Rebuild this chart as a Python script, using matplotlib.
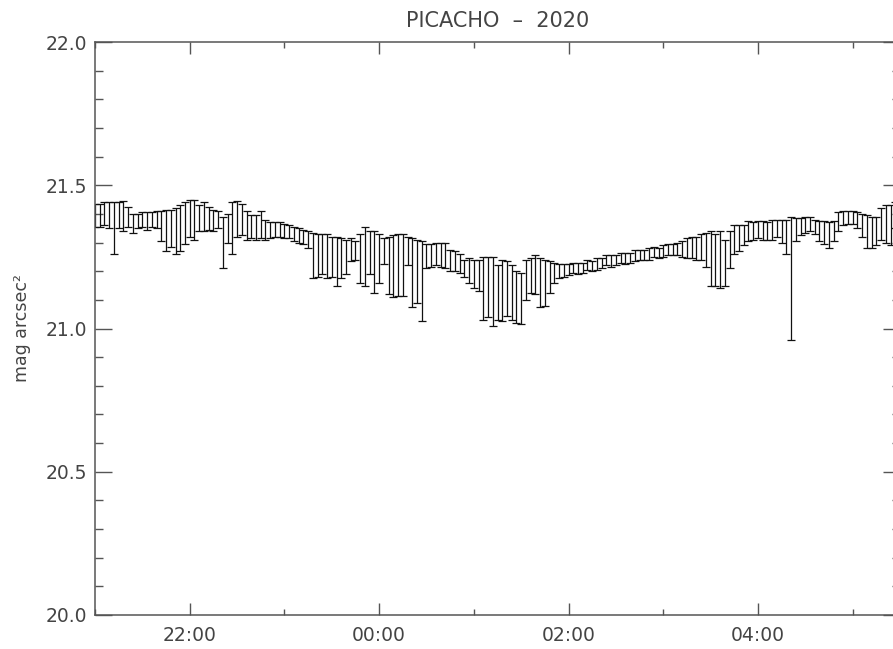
import numpy as np
import pandas as pd
import matplotlib
matplotlib.use("Agg")
import matplotlib.pyplot as plt
import matplotlib.dates as mdates
from matplotlib.ticker import MultipleLocator

# Brilho do ceu medido a cada 3 minutos (mag/arcsec^2) com barras de erro
titulo = "PICACHO  \u2013  2020"
rotulo_y = "mag arcsec\u00b2"

# valores centrais, agrupados por hora (21h ... 05h)
mag_21 = [21.395, 21.39, 21.40, 21.39, 21.38, 21.39, 21.39, 21.385, 21.37, 21.375,
          21.38, 21.375, 21.38, 21.38, 21.375, 21.38, 21.385, 21.38, 21.39, 21.395]
mag_22 = [21.40, 21.41, 21.40, 21.39, 21.385, 21.38, 21.37, 21.36, 21.37, 21.38,
          21.39, 21.385, 21.37, 21.365, 21.36, 21.365, 21.36, 21.355, 21.355, 21.35]
mag_23 = [21.345, 21.34, 21.335, 21.33, 21.325, 21.32, 21.315, 21.31, 21.31, 21.305,
          21.30, 21.30, 21.295, 21.29, 21.285, 21.28, 21.28, 21.29, 21.29, 21.285]
mag_00 = [21.28, 21.275, 21.28, 21.28, 21.285, 21.285, 21.28, 21.275, 21.27, 21.265,
          21.27, 21.265, 21.26, 21.255, 21.25, 21.245, 21.24, 21.235, 21.22, 21.21]
mag_01 = [21.20, 21.19, 21.17, 21.16, 21.15, 21.15, 21.145, 21.145, 21.15, 21.15,
          21.155, 21.16, 21.165, 21.17, 21.175, 21.18, 21.185, 21.19, 21.195, 21.20]
mag_02 = [21.205, 21.21, 21.21, 21.215, 21.22, 21.22, 21.225, 21.23, 21.235, 21.235,
          21.24, 21.245, 21.245, 21.25, 21.255, 21.255, 21.26, 21.26, 21.265, 21.265]
mag_03 = [21.27, 21.275, 21.275, 21.28, 21.28, 21.285, 21.285, 21.29, 21.29, 21.285,
          21.27, 21.23, 21.22, 21.23, 21.26, 21.30, 21.32, 21.33, 21.335, 21.34]
mag_04 = [21.345, 21.34, 21.34, 21.345, 21.35, 21.33, 21.32, 21.34, 21.345, 21.355,
          21.36, 21.365, 21.36, 21.35, 21.345, 21.34, 21.345, 21.37, 21.38, 21.385]
mag_05 = [21.385, 21.38, 21.37, 21.36, 21.355, 21.35, 21.37, 21.38, 21.39, 21.40]

# erro para cima
sup_21 = [0.04, 0.045, 0.04, 0.05, 0.06, 0.05, 0.055, 0.04, 0.03, 0.025,
          0.025, 0.03, 0.025, 0.03, 0.035, 0.035, 0.03, 0.04, 0.04, 0.045]
sup_22 = [0.05, 0.04, 0.03, 0.05, 0.04, 0.035, 0.04, 0.03, 0.03, 0.06,
          0.055, 0.05, 0.04, 0.03, 0.035, 0.045, 0.02, 0.015, 0.015, 0.02]
sup_23 = [0.02, 0.02, 0.02, 0.02, 0.02, 0.02, 0.02, 0.02, 0.02, 0.025,
          0.02, 0.02, 0.02, 0.02, 0.03, 0.025, 0.05, 0.065, 0.05, 0.055]
sup_00 = [0.05, 0.04, 0.04, 0.045, 0.045, 0.045, 0.04, 0.04, 0.04, 0.04,
          0.025, 0.03, 0.04, 0.045, 0.05, 0.03, 0.03, 0.025, 0.02, 0.035]
sup_01 = [0.04, 0.05, 0.08, 0.09, 0.10, 0.07, 0.095, 0.09, 0.07, 0.05,
          0.04, 0.08, 0.08, 0.085, 0.07, 0.06, 0.05, 0.04, 0.03, 0.025]
sup_02 = [0.02, 0.02, 0.02, 0.015, 0.02, 0.015, 0.02, 0.015, 0.02, 0.02,
          0.015, 0.02, 0.02, 0.015, 0.02, 0.02, 0.015, 0.02, 0.02, 0.015]
sup_03 = [0.02, 0.02, 0.02, 0.02, 0.025, 0.03, 0.035, 0.03, 0.04, 0.05,
          0.07, 0.10, 0.12, 0.08, 0.08, 0.06, 0.04, 0.03, 0.04, 0.03]
sup_04 = [0.03, 0.035, 0.03, 0.035, 0.03, 0.05, 0.06, 0.05, 0.04, 0.03,
          0.03, 0.025, 0.02, 0.025, 0.03, 0.03, 0.03, 0.035, 0.03, 0.025]
sup_05 = [0.025, 0.025, 0.03, 0.035, 0.035, 0.04, 0.05, 0.05, 0.04, 0.04]

# erro para baixo
inf_21 = [0.04, 0.035, 0.04, 0.04, 0.12, 0.04, 0.05, 0.03, 0.035, 0.025,
          0.025, 0.03, 0.025, 0.03, 0.07, 0.11, 0.10, 0.12, 0.12, 0.10]
inf_22 = [0.08, 0.10, 0.06, 0.05, 0.04, 0.04, 0.02, 0.15, 0.07, 0.12,
          0.07, 0.06, 0.06, 0.05, 0.05, 0.05, 0.05, 0.04, 0.035, 0.03]
inf_23 = [0.03, 0.025, 0.03, 0.03, 0.03, 0.04, 0.14, 0.13, 0.12, 0.13,
          0.12, 0.15, 0.12, 0.10, 0.05, 0.04, 0.12, 0.14, 0.10, 0.16]
inf_00 = [0.12, 0.05, 0.16, 0.17, 0.17, 0.17, 0.06, 0.20, 0.18, 0.24,
          0.06, 0.05, 0.04, 0.04, 0.04, 0.045, 0.04, 0.04, 0.04, 0.05]
inf_01 = [0.06, 0.06, 0.14, 0.12, 0.14, 0.12, 0.12, 0.10, 0.12, 0.13,
          0.14, 0.06, 0.04, 0.05, 0.10, 0.10, 0.06, 0.03, 0.02, 0.02]
inf_02 = [0.02, 0.015, 0.02, 0.02, 0.015, 0.02, 0.02, 0.02, 0.015, 0.02,
          0.02, 0.015, 0.02, 0.02, 0.02, 0.015, 0.02, 0.02, 0.015, 0.02]
inf_03 = [0.02, 0.02, 0.02, 0.025, 0.03, 0.04, 0.04, 0.05, 0.05, 0.07,
          0.12, 0.08, 0.08, 0.08, 0.05, 0.04, 0.05, 0.04, 0.03, 0.03]
inf_04 = [0.03, 0.03, 0.03, 0.035, 0.03, 0.03, 0.06, 0.38, 0.04, 0.03,
          0.025, 0.025, 0.03, 0.045, 0.05, 0.06, 0.04, 0.03, 0.02, 0.02]
inf_05 = [0.02, 0.03, 0.05, 0.08, 0.075, 0.06, 0.06, 0.08, 0.10, 0.05]

mag = np.array(mag_21 + mag_22 + mag_23 + mag_00 + mag_01 + mag_02 + mag_03 + mag_04 + mag_05)
err_sup = np.array(sup_21 + sup_22 + sup_23 + sup_00 + sup_01 + sup_02 + sup_03 + sup_04 + sup_05)
err_inf = np.array(inf_21 + inf_22 + inf_23 + inf_00 + inf_01 + inf_02 + inf_03 + inf_04 + inf_05)

# horarios das medidas (cadencia de 3 minutos)
horas = pd.date_range("2020-01-01 21:00", periods=len(mag), freq="3min")

cinza = "#555555"
texto = "#444444"

fig = plt.figure(figsize=(8.93, 6.49), dpi=100)
ax = fig.add_axes([95 / 893, 34 / 649, 805 / 893, 573 / 649])

ax.errorbar(horas, mag, yerr=[err_inf, err_sup], fmt="none", ecolor="#111111",
            elinewidth=0.9, capsize=2.6, capthick=0.9)

ax.set_xlim(pd.Timestamp("2020-01-01 21:00"), pd.Timestamp("2020-01-02 05:30"))
ax.set_ylim(20.0, 22.0)

ax.xaxis.set_major_locator(mdates.HourLocator(byhour=range(0, 24, 2)))
ax.xaxis.set_minor_locator(mdates.HourLocator())
ax.xaxis.set_major_formatter(mdates.DateFormatter("%H:%M"))
ax.yaxis.set_major_locator(MultipleLocator(0.5))
ax.yaxis.set_minor_locator(MultipleLocator(0.1))
ax.yaxis.set_major_formatter(plt.FormatStrFormatter("%.1f"))

ax.tick_params(axis="both", which="both", direction="in", top=True, right=True,
               color=cinza, width=1.0, labelcolor=texto, labelsize=13.5)
ax.tick_params(axis="y", which="major", length=12, pad=6)
ax.tick_params(axis="y", which="minor", length=6)
ax.tick_params(axis="x", which="major", length=8.5, pad=8)
ax.tick_params(axis="x", which="minor", length=4.5)

for s in ax.spines.values():
    s.set_color(cinza)
    s.set_linewidth(1.1)

ax.set_title(titulo, color=texto, fontsize=15, pad=11)
ax.set_ylabel(rotulo_y, color=texto, fontsize=12.5, labelpad=10)

plt.savefig("out.png", dpi=100)
